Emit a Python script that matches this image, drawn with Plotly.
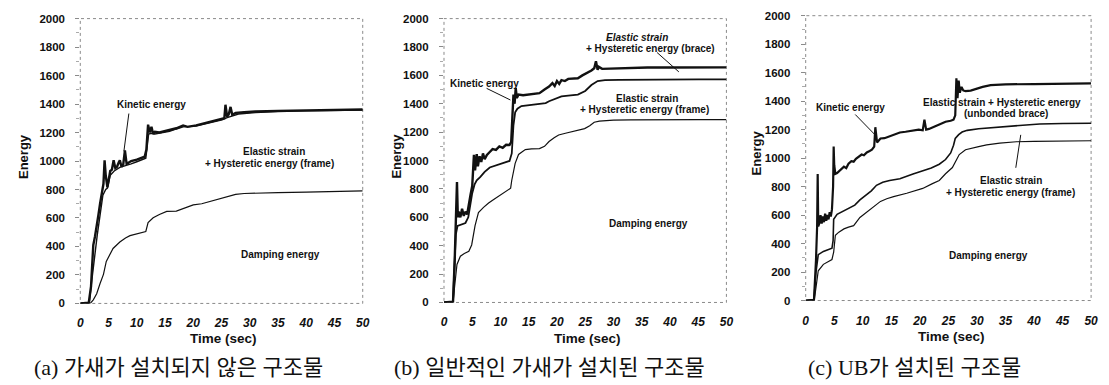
import plotly.graph_objects as go

W, H = 1109, 385

# ---------------- (a) structure without braces ----------------
a_t_total = [0, 1.5, 1.9, 2.3, 2.6, 2.9, 3.2, 3.5, 3.8, 4.1, 4.3, 4.5, 4.8, 5.1, 5.3, 5.6, 5.9, 6.2, 6.5, 6.8,
             7.0, 7.3, 7.6, 7.9, 8.2, 8.6, 9.0, 10.0, 11.0, 11.4, 11.7, 12.0, 12.3, 12.6, 12.9, 13.2, 14.0, 15.0,
             15.8, 17.0, 18.2, 19.0, 20.5, 21.5, 22.8, 24.0, 25.1, 25.5, 25.7, 26.0, 26.3, 26.6, 26.9, 27.5, 29,
             31, 35, 40, 45, 50]
a_e_total = [0, 5, 120, 410, 470, 560, 620, 700, 760, 840, 1005, 900, 815, 880, 930, 940, 1005, 950, 960, 990,
             1005, 960, 975, 1075, 980, 990, 1000, 1010, 1025, 1030, 1080, 1255, 1200, 1240, 1190, 1205, 1200, 1210,
             1215, 1230, 1250, 1240, 1250, 1260, 1270, 1280, 1295, 1300, 1395, 1310, 1330, 1380, 1325, 1338, 1342,
             1348, 1352, 1356, 1360, 1362]

a_t_frame = [0, 1.6, 2.0, 2.5, 3.0, 3.5, 4.0, 4.5, 4.8, 5.3, 6.0, 7.0, 8.0, 9.0, 10.0, 11.0, 11.6, 12.1, 12.6,
             13.2, 14.0, 15.8, 17.0, 18.2, 20.5, 22.8, 25.1, 26.0, 27.0, 28.0, 31, 35, 40, 45, 50]
a_e_frame = [0, 5, 150, 330, 480, 620, 760, 800, 810, 900, 930, 955, 965, 980, 995, 1010, 1020, 1190, 1195,
             1190, 1195, 1208, 1225, 1240, 1245, 1265, 1290, 1305, 1320, 1330, 1340, 1348, 1352, 1356, 1358]

a_t_damp = [0, 1.8, 2.3, 2.9, 3.5, 4.1, 4.6, 5.2, 5.8, 7.0, 8.0, 8.8, 10.0, 11.1, 11.6, 12.0, 12.5, 12.9, 14.0,
            15.3, 17.0, 18.5, 20.0, 21.5, 22.8, 24.0, 25.7, 27.5, 29, 31, 35, 40, 45, 50]
a_e_damp = [0, 2, 25, 68, 140, 204, 295, 340, 386, 431, 460, 476, 490, 499, 505, 567, 590, 601, 625,
            646, 648, 670, 692, 700, 714, 725, 748, 766, 772, 775, 778, 782, 786, 790]

# ---------------- (b) structure with conventional braces ----------------
b_t_total = [0, 1.6, 1.9, 2.1, 2.3, 2.45, 2.6, 2.9, 3.2, 3.5, 3.8, 4.1, 4.4, 4.7, 5.0, 5.3, 5.5, 5.8, 6.0, 6.3,
             6.6, 6.9, 7.2, 7.6, 8.1, 8.6, 9.2, 9.8, 10.4, 11.0, 11.6, 11.9, 12.1, 12.3, 12.5, 12.7, 12.9, 13.2,
             14.0, 15.0, 16.0, 16.9, 17.8, 18.6, 19.2, 19.6, 20.0, 20.4, 20.8, 21.4, 22.0, 22.8, 23.7, 24.5, 25.3,
             26.1, 26.6, 26.9, 27.2, 27.4, 28.0, 30.3, 33, 36, 40, 45, 50]
b_e_total = [0, 5, 300, 520, 849, 600, 640, 600, 660, 610, 640, 620, 700, 760, 820, 1040, 930, 1045, 960, 1030,
             990, 1050, 1010, 1040, 1060, 1080, 1075, 1100, 1090, 1111, 1110, 1130, 1300, 1465, 1400, 1510, 1440,
             1465, 1460, 1465, 1470, 1475, 1500, 1521, 1545, 1525, 1560, 1540, 1566, 1560, 1575, 1578, 1580, 1600,
             1615, 1634, 1650, 1700, 1640, 1660, 1646, 1650, 1652, 1655, 1655, 1656, 1656]

b_t_brace = [0, 1.6, 1.9, 2.1, 2.4, 2.8, 3.3, 3.8, 4.3, 4.6, 5.0, 5.4, 5.8, 6.4, 7.2, 8.1, 9.5, 10.5, 11.6, 12.0,
             12.3, 12.6, 13.0, 13.7, 15.0, 16.9, 18.0, 18.6, 19.6, 20.8, 22.0, 23.7, 25.0, 26.1, 27.2, 28.5, 31,
             35, 40, 45, 50]
b_e_brace = [0, 5, 300, 480, 540, 545, 550, 560, 600, 680, 770, 830, 860, 883, 920, 951, 970, 985, 997, 1050,
             1250, 1340, 1365, 1384, 1390, 1395, 1405, 1418, 1435, 1452, 1458, 1464, 1490, 1532, 1560, 1566, 1568,
             1570, 1570, 1572, 1572]

b_t_damp = [0, 1.6, 1.85, 2.05, 2.3, 2.9, 3.6, 4.4, 4.9, 5.5, 6.1, 7.0, 7.9, 8.8, 9.6, 10.5, 11.4, 11.8, 12.0,
            12.6, 13.2, 14.4, 15.5, 16.9, 17.8, 18.6, 19.5, 20.3, 21.5, 22.6, 23.8, 24.9, 25.8, 26.6, 27.5, 28.4,
            30, 33, 36.5, 40, 45, 50]
b_e_damp = [0, 2, 100, 200, 268, 326, 345, 360, 405, 542, 633, 670, 701, 725, 747, 770, 792, 805, 861,
            980, 1043, 1077, 1082, 1084, 1100, 1134, 1160, 1180, 1192, 1202, 1212, 1225, 1245, 1270, 1278, 1282,
            1284, 1286, 1288, 1288, 1288, 1288]

# ---------------- (c) structure with unbonded braces ----------------
c_t_total = [0, 1.45, 1.8, 2.0, 2.1, 2.2, 2.4, 2.6, 2.8, 3.0, 3.2, 3.4, 3.6, 3.8, 4.0, 4.2, 4.4, 4.6, 4.8, 4.9,
             5.0, 5.2, 5.5, 5.9, 6.3, 6.7, 7.1, 7.5, 8.0, 8.4, 8.8, 9.3, 9.8, 10.2, 10.7, 11.2, 11.6, 12.0, 12.2,
             12.5, 13.1, 13.8, 14.8, 15.8, 16.5, 17.5, 18.8, 19.8, 20.5, 20.8, 21.1, 21.6, 22.5, 23.5, 24.5, 25.4,
             25.9, 26.2, 26.4, 26.6, 26.8, 27.0, 27.3, 27.6, 28.0, 28.9, 30.0, 31.0, 32.4, 35, 40, 45, 50]
c_e_total = [0, 5, 280, 520, 889, 520, 545, 600, 540, 590, 550, 610, 560, 600, 570, 620, 590, 640, 800, 1081,
             950, 889, 895, 910, 923, 940, 930, 960, 979, 975, 995, 1010, 1025, 1020, 1040, 1050, 1059, 1080, 1217,
             1110, 1138, 1140, 1155, 1170, 1180, 1185, 1195, 1200, 1195, 1270, 1200, 1205, 1220, 1240, 1255, 1262,
             1270, 1300, 1560, 1420, 1545, 1460, 1500, 1475, 1470, 1474, 1490, 1500, 1512, 1518, 1520, 1523, 1525]

c_t_brace = [0, 1.45, 1.8, 2.2, 3.1, 4.0, 4.6, 4.8, 4.9, 5.5, 6.5, 7.8, 8.6, 9.5, 10.6, 11.5, 12.4, 13.5, 14.7,
             16.5, 18.8, 20.5, 22.0, 23.4, 24.5, 25.4, 25.9, 26.2, 26.8, 27.4, 28.3, 30.3, 33, 35.3, 38, 41, 45, 50]
c_e_brace = [0, 5, 200, 322, 345, 355, 367, 420, 571, 605, 625, 651, 670, 707, 741, 770, 809, 830, 843,
             855, 889, 911, 930, 957, 990, 1036, 1090, 1138, 1165, 1183, 1195, 1206, 1215, 1224, 1232, 1240, 1243,
             1245]

c_t_damp = [0, 1.5, 1.9, 2.2, 3.1, 4.0, 4.6, 4.9, 5.2, 5.8, 6.7, 7.5, 8.4, 9.5, 10.6, 11.8, 13.1, 14.2, 15.4,
            17.7, 20.5, 22.2, 23.4, 24.5, 25.7, 26.9, 28.0, 30.3, 31.7, 34, 36.9, 40, 45, 50]
c_e_damp = [0, 3, 120, 209, 254, 275, 288, 340, 458, 480, 503, 515, 526, 583, 617, 650, 696, 715, 730,
            753, 787, 821, 843, 890, 934, 1025, 1059, 1081, 1093, 1105, 1115, 1118, 1120, 1122]

time_ticks = [0, 5, 10, 15, 20, 25, 30, 35, 40, 45, 50]
energy_ticks = [0, 200, 400, 600, 800, 1000, 1200, 1400, 1600, 1800, 2000]

captions = ["(a) 가새가 설치되지 않은 구조물", "(b) 일반적인 가새가 설치된 구조물", "(c) UB가 설치된 구조물"]

# plot boxes in pixels: left, right, top, bottom
boxes = [(78, 363, 13, 307), (445, 730, 13, 306), (810, 1098, 10, 304)]

series = [
    [(a_t_total, a_e_total, 2.4), (a_t_frame, a_e_frame, 1.4), (a_t_damp, a_e_damp, 1.2)],
    [(b_t_total, b_e_total, 2.4), (b_t_brace, b_e_brace, 1.8), (b_t_damp, b_e_damp, 1.2)],
    [(c_t_total, c_e_total, 2.2), (c_t_brace, c_e_brace, 1.6), (c_t_damp, c_e_damp, 1.2)],
]

fig = go.Figure()
LABEL = "Liberation Sans, Arial, sans-serif"
INK = "#111111"
FRAME = "#8a8a8a"


def px(x):
    return x / W


def py(y):
    return 1 - y / H


def note(text, x, y, size, family=LABEL, angle=0):
    return dict(text=text, x=px(x), y=py(y), xref="paper", yref="paper", showarrow=False,
                xanchor="center", yanchor="middle", textangle=angle,
                font=dict(family=family, size=size, color=INK))


layout = {}
shapes = []
annotations = []
for i, (box, group) in enumerate(zip(boxes, series), start=1):
    sfx = "" if i == 1 else str(i)
    xa, ya = "x" + sfx, "y" + sfx
    for t, e, w in group:
        fig.add_trace(go.Scatter(x=t, y=e, mode="lines", xaxis=xa, yaxis=ya,
                                 line=dict(color=INK, width=w), showlegend=False,
                                 hoverinfo="skip"))
    l, r, top, bot = box
    layout["xaxis" + sfx] = dict(
        domain=[px(l), px(r)], anchor=ya, range=[0, 50], tickvals=time_ticks,
        showgrid=False, zeroline=False, showline=False, ticks="",
        tickfont=dict(family=LABEL, size=12, color=INK, weight="bold", style="italic"),
        ticklabelstandoff=11, fixedrange=True)
    layout["yaxis" + sfx] = dict(
        domain=[py(bot), py(top)], anchor=xa, range=[0, 2000], tickvals=energy_ticks,
        showgrid=False, zeroline=False, showline=False,
        ticks="outside", ticklen=4, tickcolor=FRAME, tickwidth=1,
        minor=dict(ticks="outside", ticklen=3, tickcolor="#aaaaaa", dtick=100),
        tickfont=dict(family=LABEL, size=11.5, color=INK, weight="bold"),
        ticklabelstandoff=8, fixedrange=True)
    shapes.append(dict(type="rect", xref=f"{xa} domain", yref=f"{ya} domain", x0=0, x1=1, y0=0, y1=1,
                       line=dict(color=FRAME, width=1, dash="dot"), layer="below"))

# axis titles and captions
title_pos = [((20, 155), (223, 343), 177), ((397, 155), (590, 343), 551), ((760, 152), (957, 341), 920)]
for (ey, tx, cx), cap in zip(title_pos, captions):
    annotations.append(note("<b>Energy</b>", ey[0], ey[1], 13, angle=-90))
    annotations.append(note("<b>Time (sec)</b>", tx[0], tx[1], 13.5))
    annotations.append(note(cap, cx, 373, 22, family="Liberation Serif, Noto Sans CJK KR, serif"))

# energy component labels (pixel centres)
labels = [
    ("<b>Kinetic energy</b>", 150, 102),
    ("<b>Elastic strain</b>", 273, 150),
    ("<b>+ Hysteretic energy (frame)</b>", 269, 163),
    ("<b>Damping energy</b>", 280, 257),
    ("<b><i>Elastic strain</i></b>", 640, 33),
    ("<b>+ Hysteretic energy (brace)</b>", 653, 44),
    ("<b>Kinetic energy</b>", 486, 80),
    ("<b>Elastic strain</b>", 650, 95),
    ("<b>+ Hysteretic energy (frame)</b>", 647, 107),
    ("<b>Damping energy</b>", 651, 225),
    ("<b>Kinetic energy</b>", 855, 105),
    ("<b>Elastic strain + Hysteretic energy</b>", 1008, 100),
    ("<b>(unbonded brace)</b>", 1012, 111),
    ("<b>Elastic strain</b>", 1017, 180),
    ("<b>+ Hysteretic energy (frame)</b>", 1017, 192),
    ("<b>Damping energy</b>", 994, 258),
]
for txt, x, y in labels:
    annotations.append(note(txt, x, y, 10))

# leader lines from labels to curves (pixel endpoints)
leaders = [((127, 111), (122, 150)), ((488, 85), (512, 97)), ((660, 48), (682, 68)),
           ((860, 112), (880, 133)), ((1022, 167), (1027, 133))]
for (x0, y0), (x1, y1) in leaders:
    shapes.append(dict(type="line", xref="paper", yref="paper", x0=px(x0), y0=py(y0), x1=px(x1), y1=py(y1),
                       line=dict(color=INK, width=1)))

fig.update_layout(width=W, height=H, margin=dict(l=0, r=0, t=0, b=0), paper_bgcolor="white",
                  plot_bgcolor="white", shapes=shapes, annotations=annotations, **layout)
fig.write_html("out.html", config={"displayModeBar": False})
